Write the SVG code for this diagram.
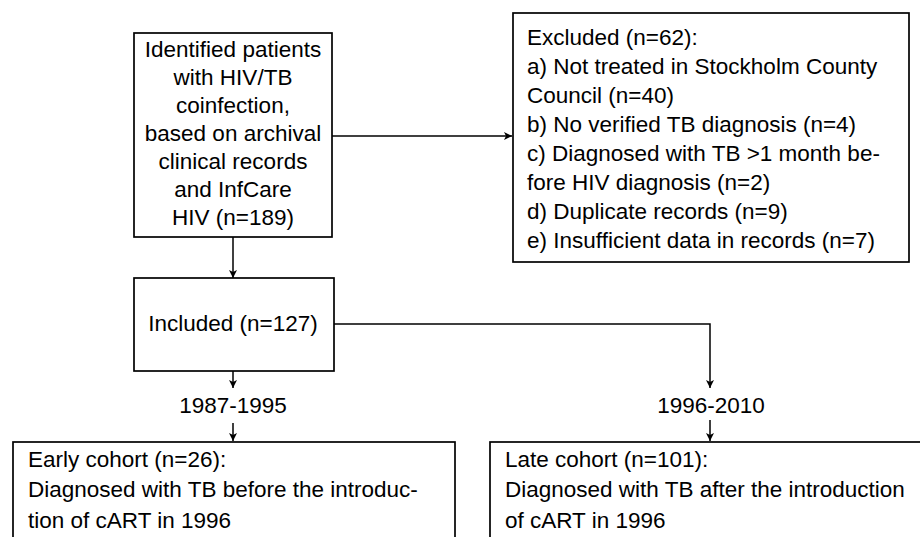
<svg xmlns="http://www.w3.org/2000/svg" width="920" height="537" viewBox="0 0 920 537">
  <style>
    .box { fill: #ffffff; stroke: #000000; stroke-width: 1.7; }
    .edge { fill: none; stroke: #000000; stroke-width: 1.5; }
    text { font-family: "Liberation Sans", Arial, sans-serif; font-size: 22.5px; fill: #000000; }
    .c { text-anchor: middle; }
  </style>
  <defs>
    <marker id="arrow" viewBox="0 0 10 10" refX="10" refY="5" markerWidth="8" markerHeight="8" markerUnits="userSpaceOnUse" orient="auto">
      <path d="M0,0 L10,5 L0,10 L2.5,5 Z" fill="#000000"/>
    </marker>
  </defs>
  <rect width="920" height="537" fill="#ffffff"/>

  <g id="connectors">
    <line class="edge" x1="332" y1="136" x2="512" y2="136" marker-end="url(#arrow)"/>
    <line class="edge" x1="233" y1="237" x2="233" y2="278" marker-end="url(#arrow)"/>
    <polyline class="edge" points="334,324 710,324 710,388" marker-end="url(#arrow)"/>
    <line class="edge" x1="233" y1="371" x2="233" y2="388" marker-end="url(#arrow)"/>
    <line class="edge" x1="233" y1="423" x2="233" y2="441" marker-end="url(#arrow)"/>
    <line class="edge" x1="710" y1="420" x2="710" y2="441" marker-end="url(#arrow)"/>
    <text class="c" x="233" y="413">1987-1995</text>
    <text class="c" x="711" y="413">1996-2010</text>
  </g>

  <g id="identified">
    <rect class="box" x="134" y="33" width="198" height="204"/>
    <text class="c" x="233" y="57">Identified patients</text>
    <text class="c" x="233" y="85">with HIV/TB</text>
    <text class="c" x="233" y="113">coinfection,</text>
    <text class="c" x="233" y="141">based on archival</text>
    <text class="c" x="233" y="169">clinical records</text>
    <text class="c" x="233" y="197">and InfCare</text>
    <text class="c" x="233" y="225">HIV (n=189)</text>
  </g>

  <g id="excluded">
    <rect class="box" x="513" y="13" width="396" height="249"/>
    <text x="527" y="45">Excluded (n=62):</text>
    <text x="527" y="74">a) Not treated in Stockholm County</text>
    <text x="527" y="103">Council (n=40)</text>
    <text x="527" y="132">b) No verified TB diagnosis (n=4)</text>
    <text x="527" y="161">c) Diagnosed with TB &gt;1 month be-</text>
    <text x="527" y="190">fore HIV diagnosis (n=2)</text>
    <text x="527" y="219">d) Duplicate records (n=9)</text>
    <text x="527" y="248">e) Insufficient data in records (n=7)</text>
  </g>

  <g id="included">
    <rect class="box" x="134" y="278" width="200" height="93"/>
    <text class="c" x="233" y="331">Included (n=127)</text>
  </g>

  <g id="early">
    <rect class="box" x="13" y="442" width="442" height="110"/>
    <text x="28" y="467">Early cohort (n=26):</text>
    <text x="28" y="497">Diagnosed with TB before the introduc-</text>
    <text x="28" y="528">tion of cART in 1996</text>
  </g>

  <g id="late">
    <rect class="box" x="490" y="442" width="440" height="110"/>
    <text x="505" y="467">Late cohort (n=101):</text>
    <text x="505" y="497">Diagnosed with TB after the introduction</text>
    <text x="505" y="528">of cART in 1996</text>
  </g>
</svg>
